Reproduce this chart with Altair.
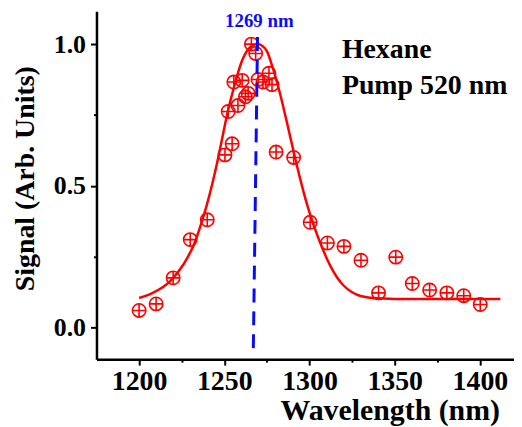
import altair as alt
import pandas as pd

# measured points (wavelength nm, signal)
pt_wl = [1200, 1210, 1220, 1230, 1240, 1250.4, 1252.3, 1254.6, 1255.6, 1258,
         1260.5, 1262.4, 1264, 1265.9, 1268.4, 1269.8, 1272.7, 1276.2, 1278,
         1280.4, 1290.7, 1300.4, 1310.5, 1320.2, 1330.2, 1340.5, 1350.6,
         1360.3, 1370.5, 1380.6, 1390.5, 1400.2]
pt_sig = [0.06, 0.083, 0.175, 0.31, 0.38, 0.609, 0.762, 0.648, 0.866, 0.783,
          0.872, 0.814, 0.826, 1.0, 0.967, 0.875, 0.866, 0.897, 0.857,
          0.619, 0.6, 0.371, 0.298, 0.286, 0.237, 0.122, 0.248,
          0.155, 0.132, 0.122, 0.112, 0.081]

# fitted curve
fit_wl = [1200, 1208, 1218, 1226, 1232.5, 1236.5, 1239.5, 1243, 1245.5, 1248,
          1252, 1256, 1260, 1264, 1267, 1269.5, 1272, 1275, 1278.5, 1282.5,
          1286.5, 1290.5, 1294.5, 1298.5, 1302.5, 1307.5, 1312, 1316, 1320,
          1325, 1330, 1340, 1360, 1412]
fit_sig = [0.104, 0.122, 0.162, 0.222, 0.297, 0.367, 0.427, 0.508, 0.573, 0.645,
           0.76, 0.855, 0.935, 0.982, 0.996, 1.0, 0.995, 0.975, 0.915, 0.83,
           0.73, 0.625, 0.525, 0.435, 0.36, 0.28, 0.22, 0.178, 0.148,
           0.124, 0.111, 0.103, 0.1, 0.1]

peak_label = ["1269 nm"]
peak_line_x = [1269.5]
peak_line_x2 = [1267]
peak_line_y = [1.025]
peak_line_y2 = [-0.09]

x_major = [1200, 1250, 1300, 1350, 1400]
x_minor = [1225, 1275, 1325, 1375]
y_major = [0.0, 0.5, 1.0]
y_minor = [0.25, 0.75]

notes = ["Hexane", "Pump 520 nm"]
notes_x = [1319, 1319]
notes_y = [0.951, 0.825]

pts = pd.DataFrame({"wl": pt_wl, "sig": pt_sig})
fit = pd.DataFrame({"wl": fit_wl, "sig": fit_sig})
peak = pd.DataFrame({"x": peak_line_x, "x2": peak_line_x2, "y": peak_line_y,
                     "y2": peak_line_y2, "label": peak_label,
                     "lx": [1270.6], "ly": [1.06]})
nt = pd.DataFrame({"t": notes, "x": notes_x, "y": notes_y})

xs = alt.Scale(domain=[1175, 1420], nice=False, zero=False)
ys = alt.Scale(domain=[-0.112, 1.116], nice=False, zero=False)

FONT = "Liberation Serif"
RED = "#ff0000"
BLUE = "#0a0aff"

axis_common = dict(domainColor="black", domainWidth=2.5, tickColor="black",
                   tickWidth=2, grid=False, labelFont=FONT, labelFontWeight="bold",
                   labelColor="black", titleFont=FONT, titleFontWeight="bold",
                   titleColor="black")

x_axis = alt.Axis(values=x_major, format="d", orient="bottom", tickSize=6,
                  labelFontSize=28, labelPadding=3, title="Wavelength (nm)",
                  titleFontSize=30, titleX=295, titleY=61, titleAlign="center",
                  titleBaseline="alphabetic", labelFlush=False, **axis_common)
y_axis = alt.Axis(values=y_major, format=".1f", orient="left", tickSize=6,
                  labelFontSize=26, labelPadding=5, title="Signal (Arb. Units)",
                  titleFontSize=28, titleX=-63, titleY=168, titleAlign="center",
                  titleBaseline="alphabetic", titleAngle=-90, **axis_common)

x_axis_minor = alt.Axis(values=x_minor, orient="bottom", tickSize=3, labels=False,
                        domain=False, title=None, tickColor="black", tickWidth=2,
                        grid=False)
y_axis_minor = alt.Axis(values=y_minor, orient="left", tickSize=3, labels=False,
                        domain=False, title=None, tickColor="black", tickWidth=2,
                        grid=False)

curve = alt.Chart(fit).mark_line(color=RED, strokeWidth=2.5, interpolate="monotone").encode(
    x=alt.X("wl:Q", scale=xs, axis=x_axis),
    y=alt.Y("sig:Q", scale=ys, axis=y_axis),
)

marker = "M -1 0 A 1 1 0 1 1 1 0 A 1 1 0 1 1 -1 0 Z M -1 0 L 1 0 M 0 -1 L 0 1"
points = alt.Chart(pts).mark_point(shape=marker, filled=False, color=RED,
                                   strokeWidth=1.6, size=180, opacity=1).encode(
    x=alt.X("wl:Q", scale=xs, axis=None),
    y=alt.Y("sig:Q", scale=ys, axis=None),
)

rule = alt.Chart(peak).mark_rule(color=BLUE, strokeWidth=3, strokeDash=[14, 9]).encode(
    x=alt.X("x:Q", scale=xs, axis=None),
    x2="x2:Q",
    y=alt.Y("y:Q", scale=ys, axis=None),
    y2="y2:Q",
)

plabel = alt.Chart(peak).mark_text(color=BLUE, font=FONT, fontWeight="bold",
                                   fontSize=19, align="center",
                                   baseline="alphabetic").encode(
    x=alt.X("lx:Q", scale=xs, axis=None),
    y=alt.Y("ly:Q", scale=ys, axis=None),
    text="label:N",
)

ntext = alt.Chart(nt).mark_text(color="black", font=FONT, fontWeight="bold",
                                fontSize=28, align="left",
                                baseline="alphabetic").encode(
    x=alt.X("x:Q", scale=xs, axis=None),
    y=alt.Y("y:Q", scale=ys, axis=None),
    text="t:N",
)

minor = alt.Chart(pts).mark_point(opacity=0).encode(
    x=alt.X("wl:Q", scale=xs, axis=x_axis_minor),
    y=alt.Y("sig:Q", scale=ys, axis=y_axis_minor),
)

chart = alt.layer(curve, points, rule, plabel, ntext, minor).resolve_axis(
    x="independent", y="independent"
).properties(
    width=420, height=350,
    autosize=alt.AutoSizeParams(type="none"),
    padding={"left": 89, "top": 2, "right": 0, "bottom": 67},
).configure_view(stroke=None)

chart.save("out.html", embed_options={"renderer": "svg", "actions": False})
